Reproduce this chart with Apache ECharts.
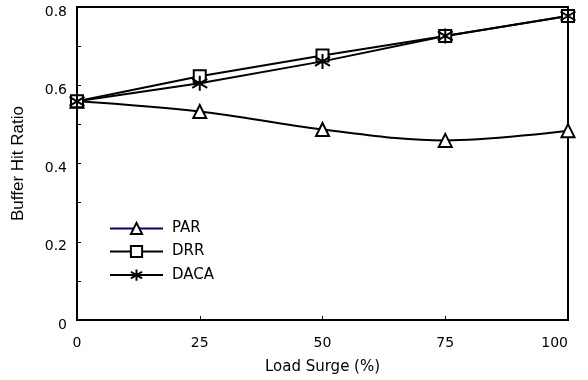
<!DOCTYPE html>
<html>
<head>
<meta charset="utf-8">
<script src="https://cdn.jsdelivr.net/npm/echarts@6/dist/echarts.min.js"></script>
<style>
  html, body { margin: 0; padding: 0; background: #fff; }
  #chart { width: 588px; height: 380px; }
</style>
</head>
<body>
<div id="chart"></div>
<script>
const surge = [0, 25, 50, 75, 100]
const par = [0.559, 0.533, 0.487, 0.459, 0.484]
const drr = [0.559, 0.623, 0.676, 0.726, 0.777]
const daca = [0.559, 0.605, 0.661, 0.726, 0.777]

const font = 'DejaVu Sans'
const star = 'path://M10,0 L10,20 M1,4 L19,16 M1,16 L19,4'
const pairs = arr => surge.map((x, i) => [x, arr[i]])

const chart = echarts.init(document.getElementById('chart'))
const hollow = { color: '#fff', borderColor: '#000', borderWidth: 2 }
const option = {
  animation: false,
  grid: {
    left: 77,
    right: 20,
    top: 7,
    bottom: 59,
    show: true,
    borderColor: '#000',
    borderWidth: 2
  },
  legend: {
    orient: 'vertical',
    left: 104,
    top: 216,
    itemWidth: 53,
    itemHeight: 14,
    itemGap: 8,
    textStyle: { fontFamily: font, fontSize: 15, color: '#000', padding: [0, 0, 0, 4] },
    data: [
      { name: 'PAR', lineStyle: { color: '#000080' } },
      { name: 'DRR' },
      { name: 'DACA' }
    ]
  },
  xAxis: {
    type: 'value',
    min: 0,
    max: 100,
    interval: 25,
    name: 'Load Surge (%)',
    nameLocation: 'middle',
    nameGap: 40,
    nameTextStyle: { fontFamily: font, fontSize: 15, color: '#000' },
    axisLine: { lineStyle: { color: '#000', width: 2 } },
    axisTick: { inside: true, length: 4, lineStyle: { color: '#000' } },
    axisLabel: { fontFamily: font, fontSize: 14, color: '#000', margin: 16, alignMaxLabel: 'right' },
    splitLine: { show: false }
  },
  yAxis: {
    type: 'value',
    min: 0,
    max: 0.8,
    interval: 0.2,
    name: 'Buffer Hit Ratio',
    nameLocation: 'middle',
    nameGap: 50,
    nameTextStyle: { fontFamily: 'Liberation Sans', fontSize: 17, color: '#000' },
    axisLine: { lineStyle: { color: '#000', width: 2 } },
    axisTick: { inside: true, length: 4, lineStyle: { color: '#000' } },
    minorTick: { show: true, splitNumber: 2, length: 4, lineStyle: { color: '#000' } },
    axisLabel: {
      fontFamily: font, fontSize: 14, color: '#000', margin: 10,
      verticalAlign: 'top', lineHeight: 10,
      formatter: v => String(+v.toFixed(1))
    },
    splitLine: { show: false }
  },
  series: [
    {
      name: 'PAR',
      type: 'line',
      smooth: 0.35,
      data: pairs(par),
      symbol: 'triangle',
      symbolSize: 13,
      itemStyle: hollow,
      lineStyle: { color: '#000', width: 2 }
    },
    {
      name: 'DRR',
      type: 'line',
      data: pairs(drr),
      symbol: 'rect',
      symbolSize: 12,
      itemStyle: hollow,
      lineStyle: { color: '#000', width: 2 }
    },
    {
      name: 'DACA',
      type: 'line',
      data: pairs(daca),
      symbol: star,
      symbolSize: 15,
      itemStyle: { color: 'none', borderColor: '#000', borderWidth: 2 },
      lineStyle: { color: '#000', width: 2 }
    }
  ]
}
chart.setOption(option)
</script>
</body>
</html>
